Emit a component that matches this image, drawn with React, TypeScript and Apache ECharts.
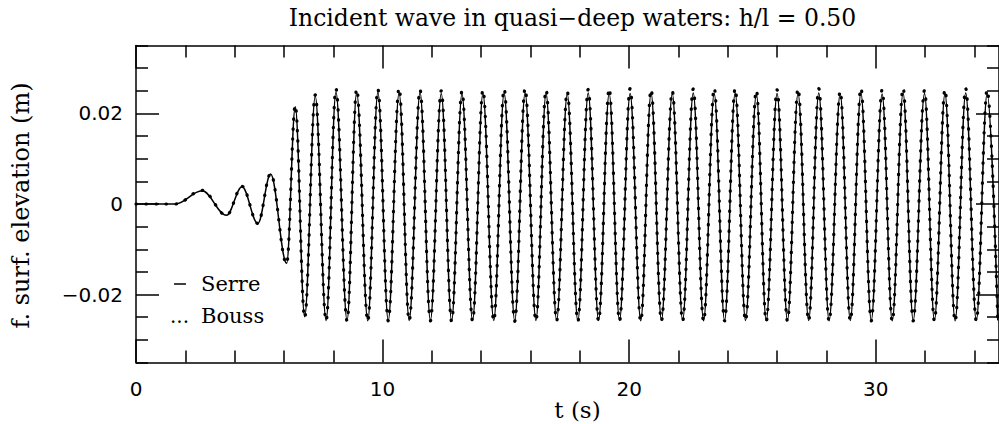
import React, { useEffect, useRef } from "react";
import * as echarts from "echarts";

const titleText = "Incident wave in quasi\u2212deep waters: h/l = 0.50";
const xName = "t (s)";
const yName = "f. surf. elevation (m)";
const legendNames = ["Serre", "Bouss"];

const xMajorTicks = [0, 10, 20, 30];
const xMinorTicks = [2, 4, 6, 8, 12, 14, 16, 18, 22, 24, 26, 28, 32, 34];
const yMajorTicks = [-0.02, 0, 0.02];
const yMinorTicks = [
  -0.035, -0.03, -0.025, -0.015, -0.01, -0.005, 0.005, 0.01, 0.015, 0.025, 0.03, 0.035,
];

// times of the extrema of the free-surface record (s)
const extremaT = [
  0, 0.8, 1.6, 2.68, 3.67, 4.3, 4.94, 5.46, 6.11, 6.46, 6.84,
  7.27, 7.71, 8.11, 8.56, 8.95, 9.4, 9.81, 10.23, 10.67, 11.08,
  11.52, 11.94, 12.38, 12.8, 13.22, 13.65, 14.07, 14.51, 14.93, 15.36,
  15.78, 16.22, 16.63, 17.06, 17.49, 17.92, 18.34, 18.76, 19.19, 19.61,
  20.04, 20.47, 20.89, 21.31, 21.75, 22.17, 22.6, 23.02, 23.45, 23.87,
  24.3, 24.72, 25.16, 25.56, 26.0, 26.42, 26.85, 27.28, 27.69, 28.11,
  28.56, 28.97, 29.4, 29.82, 30.26, 30.67, 31.11, 31.52, 31.98, 32.38,
  32.81, 33.22, 33.65, 34.08, 34.52, 34.95,
];

const serreV = [
  0, 0, 0, 0.0029, -0.0025, 0.0038, -0.0043, 0.0066, -0.0131, 0.0215, -0.0249,
  0.0238, -0.0257, 0.0247, -0.0257, 0.0246, -0.0258, 0.0246, -0.0257, 0.0245, -0.0257,
  0.0246, -0.0257, 0.0244, -0.0258, 0.0243, -0.0257, 0.0244, -0.0257, 0.0245, -0.0258,
  0.0245, -0.0257, 0.0244, -0.0257, 0.0243, -0.0258, 0.0245, -0.0257, 0.0244, -0.0257,
  0.0244, -0.0258, 0.0245, -0.0257, 0.0244, -0.0257, 0.0245, -0.0258, 0.0244, -0.0257,
  0.0245, -0.0257, 0.0243, -0.0258, 0.0244, -0.0257, 0.0244, -0.0257, 0.0245, -0.0258,
  0.0244, -0.0257, 0.0245, -0.0257, 0.0243, -0.0258, 0.0245, -0.0257, 0.0244, -0.0257,
  0.0244, -0.0258, 0.0245, -0.0257, 0.0244, -0.0257,
];

const boussV = [
  0, 0, 0, 0.003, -0.0025, 0.0039, -0.0043, 0.0067, -0.0132, 0.0218, -0.0251,
  0.0241, -0.0258, 0.0254, -0.0258, 0.0254, -0.0259, 0.0253, -0.0258, 0.0256, -0.0258,
  0.0252, -0.0258, 0.025, -0.0259, 0.0249, -0.0258, 0.0252, -0.0258, 0.0254, -0.0259,
  0.0255, -0.0258, 0.0252, -0.0258, 0.0248, -0.0259, 0.0253, -0.0258, 0.0255, -0.0258,
  0.0255, -0.0259, 0.0253, -0.0258, 0.0249, -0.0258, 0.0254, -0.0259, 0.0256, -0.0258,
  0.0255, -0.0258, 0.0251, -0.0259, 0.0252, -0.0258, 0.0255, -0.0258, 0.0255, -0.0259,
  0.0249, -0.0258, 0.0256, -0.0258, 0.0252, -0.0259, 0.0256, -0.0258, 0.0251, -0.0258,
  0.0253, -0.0259, 0.0255, -0.0258, 0.0252, -0.0258,
];

const INK = "#000";
const SERIF = '"DejaVu Serif", serif';
const SANS = '"DejaVu Sans", sans-serif';

function xAxisDef(position: "top" | "bottom", major: boolean, labels: boolean) {
  return {
    type: "value",
    min: 0,
    max: 35,
    position,
    splitLine: { show: false },
    axisLine: { show: major, onZero: false, lineStyle: { color: INK, width: 1.5 } },
    axisTick: {
      show: true,
      inside: true,
      length: major ? 23 : 12,
      customValues: major ? xMajorTicks : xMinorTicks,
      lineStyle: { color: INK, width: 1.5 },
    },
    axisLabel: labels
      ? {
          show: true,
          customValues: xMajorTicks,
          margin: 16,
          color: INK,
          fontFamily: SANS,
          fontSize: 20,
        }
      : { show: false },
  };
}

function yAxisDef(position: "left" | "right", major: boolean, labels: boolean) {
  return {
    type: "value",
    min: -0.035,
    max: 0.035,
    position,
    splitLine: { show: false },
    axisLine: { show: major, onZero: false, lineStyle: { color: INK, width: 1.5 } },
    axisTick: {
      show: true,
      inside: true,
      length: major ? 23 : 12,
      customValues: major ? yMajorTicks : yMinorTicks,
      lineStyle: { color: INK, width: 1.5 },
    },
    axisLabel: labels
      ? {
          show: true,
          customValues: yMajorTicks,
          margin: 13,
          color: INK,
          fontFamily: SANS,
          fontSize: 20,
          formatter: (v: number) =>
            Math.abs(v) < 1e-9 ? "0" : (v < 0 ? "\u2212" : "") + Math.abs(v).toFixed(2),
        }
      : { show: false },
  };
}

export default function App() {
  const ref = useRef<HTMLDivElement>(null);

  useEffect(() => {
    if (!ref.current) return;
    const chart = echarts.init(ref.current, undefined, { renderer: "svg" });
    const serreData = extremaT.map((t, i) => [t, serreV[i]]);
    const boussData = extremaT.map((t, i) => [t, boussV[i]]);

    chart.setOption({
      animation: false,
      backgroundColor: "#fff",
      grid: { left: 136, right: -10, top: 45.5, bottom: 61.5, containLabel: false },
      xAxis: [
        xAxisDef("bottom", true, true),
        xAxisDef("bottom", false, false),
        xAxisDef("top", true, false),
        xAxisDef("top", false, false),
      ],
      yAxis: [
        yAxisDef("left", true, true),
        yAxisDef("left", false, false),
        yAxisDef("right", true, false),
        yAxisDef("right", false, false),
      ],
      series: [
        {
          name: legendNames[1],
          type: "line",
          xAxisIndex: 0,
          yAxisIndex: 0,
          data: boussData,
          showSymbol: false,
          smooth: 0.36,
          smoothMonotone: "x",
          lineStyle: { color: INK, width: 3.2, type: [0.5, 9.5], cap: "round" },
          silent: true,
        },
        {
          name: legendNames[0],
          type: "line",
          xAxisIndex: 0,
          yAxisIndex: 0,
          data: serreData,
          showSymbol: false,
          smooth: 0.36,
          smoothMonotone: "x",
          lineStyle: { color: INK, width: 1.5 },
          silent: true,
        },
      ],
      graphic: [
        {
          type: "text",
          x: 572.5,
          y: 18,
          style: {
            text: titleText,
            fill: INK,
            font: `23.5px ${SERIF}`,
            align: "center",
            verticalAlign: "middle",
          },
        },
        {
          type: "text",
          x: 577.5,
          y: 410,
          style: {
            text: xName,
            fill: INK,
            font: `23px ${SERIF}`,
            align: "center",
            verticalAlign: "middle",
          },
        },
        {
          type: "text",
          x: 21,
          y: 205.5,
          rotation: Math.PI / 2,
          style: {
            text: yName,
            fill: INK,
            font: `24px ${SERIF}`,
            align: "center",
            verticalAlign: "middle",
          },
        },
        {
          type: "line",
          shape: { x1: 174, y1: 284, x2: 186, y2: 284 },
          style: { stroke: INK, lineWidth: 1.5 },
        },
        {
          type: "text",
          x: 201,
          y: 284,
          style: {
            text: legendNames[0],
            fill: INK,
            font: `21px ${SERIF}`,
            align: "left",
            verticalAlign: "middle",
          },
        },
        {
          type: "text",
          x: 170,
          y: 316,
          style: {
            text: "...",
            fill: INK,
            font: `20px ${SERIF}`,
            align: "left",
            verticalAlign: "middle",
          },
        },
        {
          type: "text",
          x: 201,
          y: 316,
          style: {
            text: legendNames[1],
            fill: INK,
            font: `21px ${SERIF}`,
            align: "left",
            verticalAlign: "middle",
          },
        },
      ],
    });

    return () => chart.dispose();
  }, []);

  return (
    <div
      ref={ref}
      style={{ position: "absolute", left: 0, top: 0, width: 999, height: 424, background: "#fff" }}
    />
  );
}
